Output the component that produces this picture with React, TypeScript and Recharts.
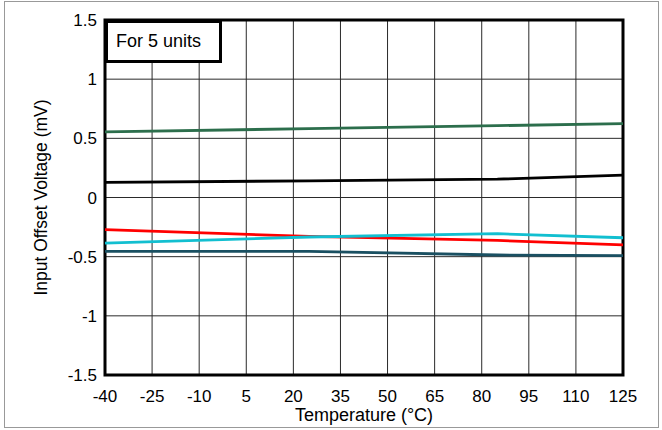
import React from "react";
import {
  LineChart,
  Line,
  XAxis,
  YAxis,
  CartesianGrid,
  ReferenceArea,
  Label,
} from "recharts";

// temperatures where each unit was measured (°C)
const temps = [-40, 25, 85, 125];

// input offset voltage per unit (mV)
const unitA = [0.554, 0.582, 0.607, 0.624];
const unitB = [0.127, 0.141, 0.155, 0.189];
const unitC = [-0.272, -0.329, -0.363, -0.401];
const unitD = [-0.385, -0.334, -0.306, -0.34];
const unitE = [-0.455, -0.455, -0.486, -0.492];

const xTicks = [-40, -25, -10, 5, 20, 35, 50, 65, 80, 95, 110, 125];
const yTicks = [-1.5, -1, -0.5, 0, 0.5, 1, 1.5];

const data = temps.map((t, i) => ({
  t,
  a: unitA[i],
  b: unitB[i],
  c: unitC[i],
  d: unitD[i],
  e: unitE[i],
}));

const font = "'Liberation Sans', Arial, sans-serif";
const tickStyle = { fill: "#000", fontSize: 17, fontFamily: font };

const App = () => {
  return (
    <div style={{ position: "relative", width: 662, height: 430, fontFamily: font, background: "#fff" }}>
      <style>{`body{margin:0}`}</style>
      <div
        style={{
          position: "absolute",
          left: 4,
          top: 1,
          width: 655,
          height: 427,
          border: "1px solid #999",
          boxSizing: "border-box",
        }}
      />
      <LineChart
        width={662}
        height={430}
        data={data}
        margin={{ top: 20, right: 39, bottom: 0, left: 0 }}
      >
        <CartesianGrid stroke="#2a2a2a" strokeWidth={1} />
        <XAxis
          dataKey="t"
          type="number"
          domain={[-40, 125]}
          ticks={xTicks}
          interval={0}
          height={55}
          tickLine={false}
          axisLine={false}
          tickMargin={9}
          tick={tickStyle}
        >
          <Label
            value="Temperature (°C)"
            position="insideBottom"
            offset={9}
            style={{ fill: "#000", fontSize: 18, fontFamily: font }}
          />
        </XAxis>
        <YAxis
          type="number"
          domain={[-1.5, 1.5]}
          ticks={yTicks}
          interval={0}
          width={105}
          tickLine={false}
          axisLine={false}
          tick={tickStyle}
        >
          <Label
            value="Input Offset Voltage (mV)"
            angle={-90}
            position="insideLeft"
            offset={41}
            style={{ textAnchor: "middle", fill: "#000", fontSize: 17.5, fontFamily: font }}
          />
        </YAxis>
        <Line dataKey="a" stroke="#2c6e4c" strokeWidth={2.8} dot={false} isAnimationActive={false} />
        <Line dataKey="b" stroke="#000" strokeWidth={2.8} dot={false} isAnimationActive={false} />
        <Line dataKey="c" stroke="#ff0000" strokeWidth={2.8} dot={false} isAnimationActive={false} />
        <Line dataKey="d" stroke="#12bfd0" strokeWidth={2.8} dot={false} isAnimationActive={false} />
        <Line dataKey="e" stroke="#1a5062" strokeWidth={2.8} dot={false} isAnimationActive={false} />
        <ReferenceArea
          x1={-40}
          x2={125}
          y1={-1.5}
          y2={1.5}
          fill="none"
          stroke="#000"
          strokeWidth={3}
          ifOverflow="visible"
        />
      </LineChart>
      <div
        style={{
          position: "absolute",
          left: 105,
          top: 20,
          width: 117,
          height: 43,
          boxSizing: "border-box",
          border: "3px solid #000",
          background: "#fff",
          fontSize: 18,
          lineHeight: "36px",
          paddingLeft: 8,
          color: "#000",
        }}
      >
        For 5 units
      </div>
    </div>
  );
};

export default App;
